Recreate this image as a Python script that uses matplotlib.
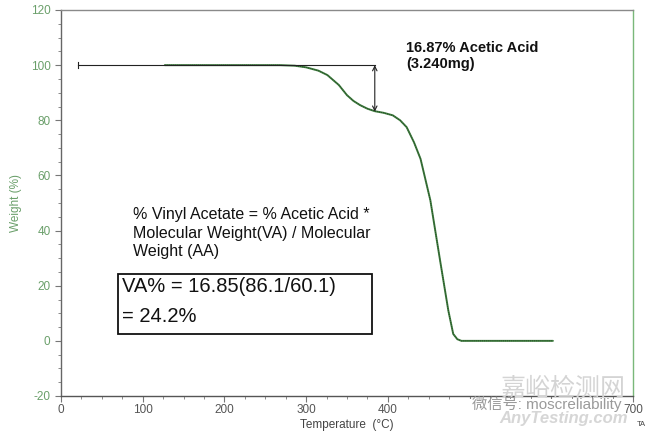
import matplotlib
matplotlib.use("Agg")
import matplotlib.pyplot as plt
from matplotlib.patches import Rectangle

plt.rcParams['font.family'] = ['Liberation Sans', 'Noto Sans CJK SC', 'DejaVu Sans']

# Data
temp = [127, 200, 268, 286, 300, 315, 326, 340, 350, 358, 366, 375, 384, 395, 406,
        415, 423, 432, 440, 452, 464, 474, 480, 485, 490, 520, 560, 602]
weight = [100, 100, 100, 99.8, 99.2, 98.0, 96.4, 92.8, 89.1, 87.0, 85.5, 84.2, 83.3, 82.7, 81.8,
          80.0, 77.5, 72.0, 66.0, 51.0, 29.0, 11.0, 2.5, 0.6, 0.0, 0.0, 0.0, 0.0]

base_start, base_end = 21, 384
step_top, step_bottom = 100, 83.13
x_ticks = [0, 100, 200, 300, 400, 500, 600, 700]
y_ticks = [-20, 0, 20, 40, 60, 80, 100, 120]
y_ticklabels = ['-20', '0', '20', '40', '60', '80', '100', '120']

green_txt = '#6a9f6a'
fig = plt.figure(figsize=(6.46, 4.33), dpi=100)
ax = fig.add_axes([61/646, 1-396/433, (633-61)/646, (396-10)/433])

ax.plot(temp, weight, color='#3d7a3d', lw=1.4, solid_capstyle='round')
ax.plot(temp, weight, color='#1f3f1f', lw=0.6, ls=(0, (1, 1.5)))

# baseline with end caps and step arrow
ax.plot([base_start, base_end], [step_top, step_top], color='#222222', lw=0.8)
ax.plot([base_start, base_start], [step_top-1.2, step_top+1.2], color='#222222', lw=0.8)
ax.annotate('', xy=(base_end, step_bottom), xytext=(base_end, step_top),
            arrowprops=dict(arrowstyle='<->', color='#222222', lw=0.8,
                            shrinkA=0, shrinkB=0, mutation_scale=8))

ax.set_xlim(0, 700)
ax.set_ylim(-20, 120)
ax.set_xticks(x_ticks)
ax.set_yticks(y_ticks)
ax.set_yticklabels(y_ticklabels)
ax.set_xticks(range(0, 701, 25), minor=True)
ax.set_yticks(range(-20, 121, 5), minor=True)
ax.tick_params(axis='y', colors='#777777', labelcolor=green_txt, labelsize=8.5, length=4, width=0.8)
ax.tick_params(axis='y', which='minor', length=2.5, colors='#777777')
ax.tick_params(axis='x', colors='#777777', labelcolor='#555555', labelsize=8.5, length=4, width=0.8, pad=2)
ax.tick_params(axis='x', which='minor', length=2.5, colors='#777777')

ax.spines['left'].set_color('#666666')
ax.spines['bottom'].set_color('#555555')
ax.spines['top'].set_color('#8a8a8a')
ax.spines['right'].set_color('#7ab87a')
for s in ax.spines.values():
    s.set_linewidth(1.0)

ax.set_ylabel('Weight (%)', color=green_txt, fontsize=8.5, labelpad=6)
ax.set_xlabel('Temperature  (°C)', color='#444444', fontsize=8.5, labelpad=2)

fig.text(406/646, 1-41/433, '16.87% Acetic Acid\n(3.240mg)', fontsize=10.5, color='#111111',
         weight='bold', va='top', ha='left', linespacing=1.2)
fig.text(133/646, 1-207/433, '% Vinyl Acetate = % Acetic Acid *\nMolecular Weight(VA) / Molecular\nWeight (AA)',
         fontsize=11.5, color='#111111', va='top', ha='left', linespacing=1.3)

fig.patches.append(Rectangle((118/646, 1-334/433), (372-118)/646, (334-274)/433,
                             transform=fig.transFigure, fill=True, facecolor='white',
                             edgecolor='#111111', lw=1.3))
fig.text(122/646, 1-277/433, 'VA% = 16.85(86.1/60.1)\n= 24.2%', fontsize=14.5, color='#111111',
         va='top', ha='left', linespacing=1.75)

fig.text(641/646, 1-424/433, 'TA', fontsize=5.5, color='#444444', ha='center', va='center')

# watermark
fig.text(563/646, 1-389/433, '嘉峪检测网', fontsize=18, color='#d4d4d4', ha='center', va='center', zorder=3)
fig.patches.append(Rectangle((455/646, 1-416/433), (620-455)/646, (416-399)/433,
                             transform=fig.transFigure, facecolor='white', edgecolor='none', zorder=4))
fig.text(547/646, 1-404/433, '微信号: moscreliability', fontsize=11, color='#9a9a9a',
         ha='center', va='center', zorder=5)
fig.text(564/646, 1-418/433, 'AnyTesting.com', fontsize=12, color='#d6d6d6', ha='center', va='center',
         style='italic', weight='bold', zorder=5)

fig.savefig('out.png', dpi=100)
